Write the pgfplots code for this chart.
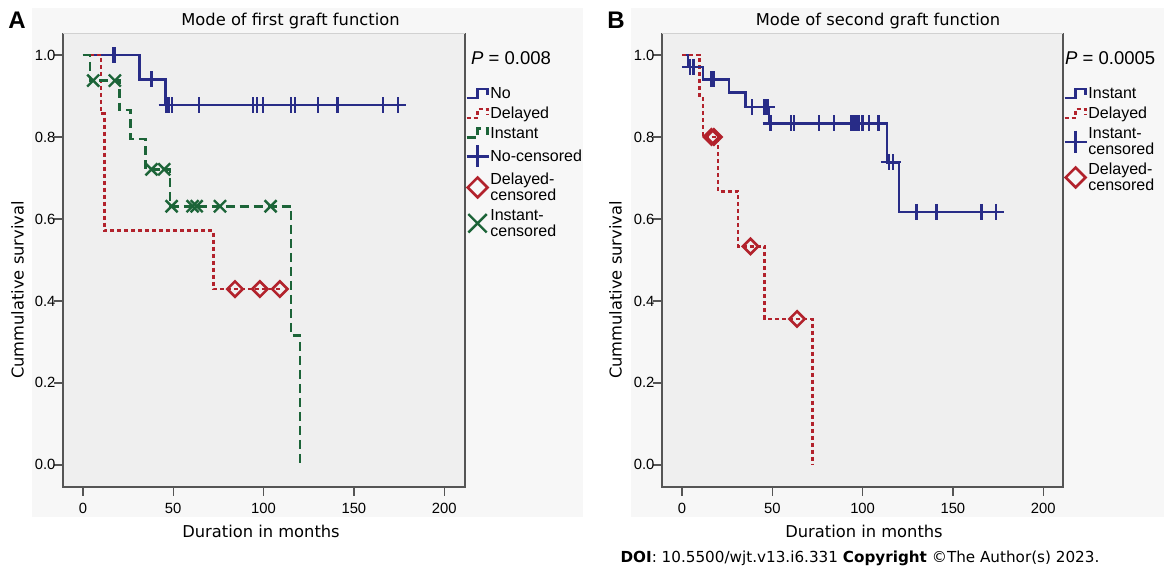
\documentclass[border=0pt]{standalone}
\usepackage{pgfplots}
\pgfplotsset{compat=1.18}
\usepackage{fontspec}
\setmainfont{Liberation Sans}
\newfontfamily\arialf{Liberation Sans}
\newfontfamily\tahf{DejaVu Sans}
\definecolor{blueC}{RGB}{40,44,135}
\definecolor{redC}{RGB}{178,34,44}
\definecolor{greenC}{RGB}{28,100,56}
\definecolor{framec}{RGB}{85,85,85}
\definecolor{plotbg}{RGB}{239,239,239}
\definecolor{outerbg}{RGB}{247,247,247}
\pgfplotsset{
  kmaxis/.style={
    scale only axis, height=454pt, ymin=-0.054, ymax=1.0537,
    xtick={0,50,100,150,200}, ytick={0,0.2,0.4,0.6,0.8,1.0},
    tick pos=left, tick align=outside, major tick length=9pt,
    axis background/.style={fill=plotbg},
    axis line style={draw=none},
    every tick/.style={color=framec, line width=1.3pt},
    ticklabel style={font=\arialf\fontsize{14.8}{16}\selectfont, text=black},
    yticklabel style={xshift=5pt, /pgf/number format/.cd, fixed, fixed zerofill, precision=1},
    xticklabel style={yshift=-4pt},
    /pgf/number format/assume math mode=true,
    clip=false,
    legend cell align=left,
    legend style={at={(1,0.883)}, anchor=north west, draw=none, fill=none, inner sep=0pt,
      row sep=4pt, cells={align=left}, nodes={inner sep=1.5pt, text=black,
      font=\arialf\fontsize{16}{16}\selectfont}},
  },
  stepimg/.style={legend image code/.code={\draw[##1] (0pt,-4pt) -- (11pt,-4pt) -- (11pt,5pt) -- (21pt,5pt) -- (21pt,-1pt);}},
  markimg/.style={legend image code/.code={\draw[##1, mark size=#1] plot coordinates {(11pt,0pt)};}},
}
\begin{document}
\begin{tikzpicture}[x=1pt,y=1pt]
\path[use as bounding box] (0,0) rectangle (1164,567);
\fill[outerbg] (32,559) rectangle (583,50);
\fill[outerbg] (631,559) rectangle (1164,50);

% ---------------- Panel A ----------------
\begin{axis}[kmaxis, at={(63pt,80pt)}, anchor=south west, width=402pt, xmin=-11, xmax=211.5]
\addplot[const plot, blueC, line width=2.7pt, stepimg] coordinates {(0,1) (31.2,0.941) (45.8,0.878) (178,0.878)};
\addlegendentry{No}
\addplot[const plot, redC, line width=2.7pt, dash pattern=on 4pt off 3pt, stepimg] coordinates {(0,1) (10,0.857) (11.8,0.571) (72.2,0.429) (109,0.429)};
\addlegendentry{Delayed}
\addplot[const plot, greenC, line width=2.7pt, dash pattern=on 9pt off 5pt, stepimg] coordinates {(0,1) (3.9,0.9375) (20.1,0.866) (26.4,0.795) (34.7,0.721) (48.2,0.631) (115.2,0.316) (120.2,0)};
\addlegendentry{Instant}
\addplot[only marks, mark=+, mark size=8pt, blueC, mark options={line width=2.2pt}, markimg=11pt] coordinates {(16.6,1) (17.8,1) (38,0.941) (46.3,0.878) (47.8,0.878) (49.3,0.878) (64.2,0.878) (94.3,0.878) (96.2,0.878) (99.8,0.878) (115,0.878) (117.4,0.878) (130.3,0.878) (140.5,0.878) (141.4,0.878) (166.3,0.878) (174.2,0.878)};
\addlegendentry{No-censored}
\addplot[only marks, mark=square, mark size=5.4pt, redC, mark options={line width=2.6pt, rotate=45, fill=none}, markimg=7pt] coordinates {(84.2,0.429) (98,0.429) (109,0.429)};
\addlegendentry{Delayed-\\censored}
\addplot[only marks, mark=x, mark size=8.5pt, greenC, mark options={line width=2.4pt}, markimg=13pt] coordinates {(5.7,0.9375) (17.7,0.9375) (38,0.721) (45,0.721) (49.1,0.631) (60.7,0.631) (63,0.631) (75.9,0.631) (103.9,0.631)};
\addlegendentry{Instant-\\censored}
\draw[framec, line width=1.3pt] (rel axis cs:0,1) -- (rel axis cs:0,0) -- (rel axis cs:1,0) -- (rel axis cs:1,1);
\draw[black!18, line width=0.8pt] (rel axis cs:0,1) -- (rel axis cs:1,1);
\end{axis}

% ---------------- Panel B ----------------
\begin{axis}[kmaxis, at={(662pt,80pt)}, anchor=south west, width=401pt, xmin=-11.1, xmax=211]
\addplot[const plot, blueC, line width=2.7pt, stepimg] coordinates {(0,1) (3.3,0.971) (11.6,0.941) (26,0.908) (35.1,0.873) (48.2,0.833) (113.5,0.738) (120.2,0.617) (177.5,0.617)};
\addlegendentry{Instant}
\addplot[const plot, redC, line width=2.7pt, dash pattern=on 4pt off 3pt, stepimg] coordinates {(0,1) (9.7,0.9) (11.6,0.8) (19.9,0.667) (31,0.533) (45.8,0.356) (72.2,0) };
\addlegendentry{Delayed}
\addplot[only marks, mark=+, mark size=8pt, blueC, mark options={line width=2.2pt}, markimg=11pt] coordinates {(4.3,0.971) (6.3,0.971) (16.3,0.941) (17.7,0.941) (38.6,0.873) (45.3,0.873) (46.6,0.873) (47.3,0.873) (49,0.833) (60.4,0.833) (62,0.833) (75.9,0.833) (84,0.833) (93.8,0.833) (95.1,0.833) (96.6,0.833) (98.1,0.833) (99.9,0.833) (103.6,0.833) (108.8,0.833) (114.6,0.738) (117,0.738) (129.8,0.617) (140.5,0.617) (141.3,0.617) (165.8,0.617) (174.1,0.617)};
\addlegendentry{Instant-\\censored}
\addplot[only marks, mark=square, mark size=5.4pt, redC, mark options={line width=2.6pt, rotate=45, fill=none}, markimg=7pt] coordinates {(16.3,0.8) (17.6,0.8) (37.9,0.533) (63.7,0.356)};
\addlegendentry{Delayed-\\censored}
\draw[framec, line width=1.3pt] (rel axis cs:0,1) -- (rel axis cs:0,0) -- (rel axis cs:1,0) -- (rel axis cs:1,1);
\draw[black!18, line width=0.8pt] (rel axis cs:0,1) -- (rel axis cs:1,1);
\end{axis}

% ---------------- Texts ----------------
\node[font=\arialf\bfseries\fontsize{24}{24}\selectfont] at (17,547) {A};
\node[font=\arialf\bfseries\fontsize{24}{24}\selectfont] at (616,547) {B};
\node[font=\tahf\fontsize{16.3}{18}\selectfont] at (290.5,546) {Mode of first graft function};
\node[font=\tahf\fontsize{16.3}{18}\selectfont] at (878,546) {Mode of second graft function};
\node[font=\tahf\fontsize{16.3}{18}\selectfont] at (261,36) {Duration in months};
\node[font=\tahf\fontsize{16.3}{18}\selectfont] at (864,36) {Duration in months};
\node[rotate=90, font=\tahf\fontsize{16.3}{18}\selectfont] at (17.5,277) {Cummulative survival};
\node[rotate=90, font=\tahf\fontsize{16.3}{18}\selectfont] at (615.5,277) {Cummulative survival};
\node[anchor=west, inner sep=0pt, font=\arialf\fontsize{18.5}{20}\selectfont] at (471,509) {\textit{P} = 0.008};
\node[anchor=west, inner sep=0pt, font=\arialf\fontsize{18.5}{20}\selectfont] at (1065,509) {\textit{P} = 0.0005};
\node[font=\tahf\fontsize{15.2}{16}\selectfont] at (860,9) {\textbf{DOI}: 10.5500/wjt.v13.i6.331 \textbf{Copyright} ©The Author(s) 2023.};
\end{tikzpicture}
\end{document}
